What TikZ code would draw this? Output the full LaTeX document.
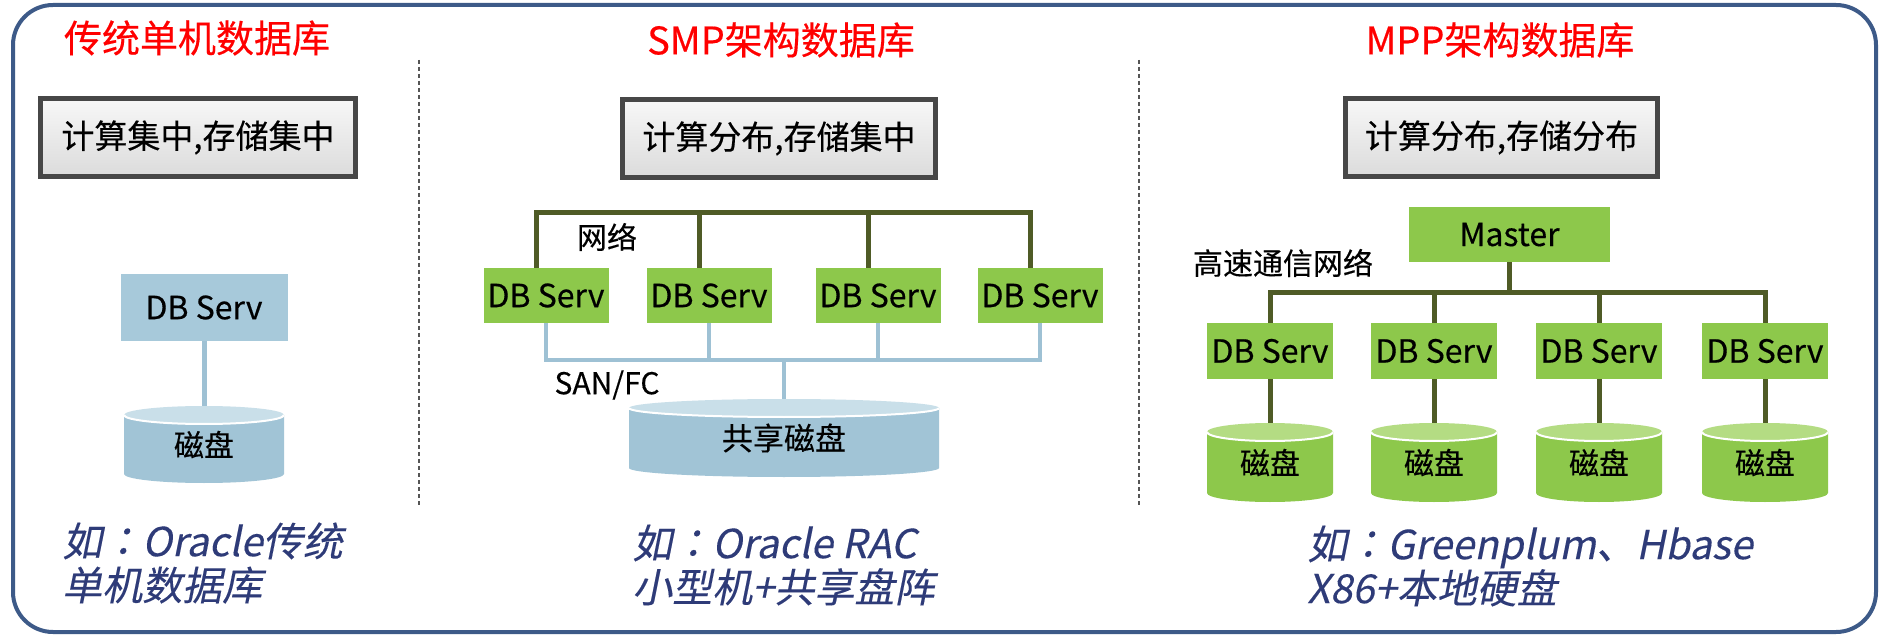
\documentclass[tikz,border=0pt]{standalone}
\usepackage{fontspec}
\setmainfont[FakeBold=0.35]{Noto Sans CJK SC}
\newfontfamily\slantfont[FakeSlant=0.2,FakeBold=0.2]{Noto Sans CJK SC}
\newfontfamily\slantcolon[FakeSlant=0.2,FakeBold=0.2]{Noto Sans CJK TC}
\usetikzlibrary{calc}

\definecolor{frameblue}{HTML}{3D5A88}
\definecolor{titlered}{HTML}{FF0000}
\definecolor{srvgreen}{HTML}{8DC84B}
\definecolor{diskgreentop}{HTML}{B4DC83}
\definecolor{srvblue}{HTML}{A7C9DA}
\definecolor{diskblue}{HTML}{A1C4D6}
\definecolor{diskbluetop}{HTML}{C9DFE9}
\definecolor{netolive}{HTML}{4F5B26}
\definecolor{sanblue}{HTML}{9EC1D4}
\definecolor{notenavy}{HTML}{2E3B78}
\definecolor{boxedge}{HTML}{474747}
\definecolor{sepgray}{HTML}{555555}

% centred full-width colon used in the example lines
\newcommand\ncolon{{\slantcolon ：}}

% cylinder drawn inside the node's rectangle: body, lighter lid, white rim
\newcommand\cylinderfill[2]{%
  \fill[#1] let \p1=(path picture bounding box.south west),
                \p2=(path picture bounding box.north east),
                \n1={(\x2-\x1)/2} in
    (\x1,\y2-9pt) -- (\x1,\y1+9pt)
    arc[start angle=180,end angle=360,x radius=\n1,y radius=9pt]
    -- (\x2,\y2-9pt) -- cycle;
  \fill[#2] let \p1=(path picture bounding box.south west),
                \p2=(path picture bounding box.north east),
                \n1={(\x2-\x1)/2} in
    ({(\x1+\x2)/2},\y2-9pt) ellipse[x radius=\n1,y radius=9pt];
  \draw[white,line width=2pt] let \p1=(path picture bounding box.south west),
                \p2=(path picture bounding box.north east),
                \n1={(\x2-\x1)/2} in
    (\x1,\y2-9pt) arc[start angle=180,end angle=360,x radius=\n1,y radius=9pt];
}

\tikzset{
  title/.style={text=titlered,font=\fontsize{38}{44}\selectfont,inner sep=0pt},
  summary/.style={draw=boxedge,line width=5pt,top color=gray!6,bottom color=gray!28,
    inner sep=0pt,font=\fontsize{33}{38}\selectfont},
  server/.style={fill=srvgreen,inner sep=0pt,font=\fontsize{32}{36}\selectfont},
  diskbox/.style n args={2}{inner sep=0pt,font=\fontsize{30}{34}\selectfont,
    path picture={\cylinderfill{#1}{#2}}},
  net/.style={draw=netolive,line width=5pt},
  san/.style={draw=sanblue,line width=4.5pt},
  lbl/.style={inner sep=0pt,font=\fontsize{30}{34}\selectfont},
  note/.style={anchor=west,align=left,inner sep=0pt,text=notenavy,
    font=\slantfont\fontsize{40}{44}\selectfont},
  sep/.style={draw=sepgray,line width=1.5pt,dash pattern=on 4pt off 3pt},
}

\begin{document}
\begin{tikzpicture}[x=1pt,y=-1pt]
\useasboundingbox (0,0) rectangle (1883,636);
\fill[white] (0,0) rectangle (1883,636);

% outer frame
\draw[frameblue,line width=4pt,rounded corners=40pt] (13,5) rectangle (1876,632);

% column separators
\draw[sep] (419,60) -- (419,505);
\draw[sep] (1139,60) -- (1139,505);

% headings
\node[title] (t1) at (197,38) {传统单机数据库};
\node[title] (t2) at (781,40) {SMP架构数据库};
\node[title] (t3) at (1500,40) {MPP架构数据库};

% summary boxes
\node[summary,minimum width=315pt,minimum height=78pt] (b1) at (198,137.5) {计算集中,存储集中};
\node[summary,minimum width=313pt,minimum height=78pt] (b2) at (779,138.5) {计算分布,存储集中};
\node[summary,minimum width=312pt,minimum height=78pt] (b3) at (1501.5,137.5) {计算分布,存储分布};

% ---- single-machine database
\node[server,fill=srvblue,minimum width=167pt,minimum height=67pt] (ls) at (204,307.5) {DB Serv};
\node[diskbox={diskblue}{diskbluetop},minimum width=160pt,minimum height=77pt] (ld) at (204,444.5) {\raisebox{-4pt}{磁盘}};
\draw[san,line width=5pt] (ls.south) -- (ld.north);

% ---- SMP
\coordinate (netbus) at (0,213);
\coordinate (sanbus) at (0,360);
\node[server,minimum width=125pt,minimum height=55pt] (s1) at (546,295.5) {DB Serv};
\node[server,minimum width=125pt,minimum height=55pt] (s2) at (709,295.5) {DB Serv};
\node[server,minimum width=125pt,minimum height=55pt] (s3) at (878,295.5) {DB Serv};
\node[server,minimum width=125pt,minimum height=55pt] (s4) at (1040,295.5) {DB Serv};
\node[diskbox={diskblue}{diskbluetop},minimum width=310pt,minimum height=78pt] (sd) at (784,438) {\raisebox{-4pt}{\fontsize{31}{34}\selectfont 共享磁盘}};

\draw[net] ([xshift=-10pt]s1.north) |- ([xshift=-10pt]s4.north |- netbus) -- ([xshift=-10pt]s4.north);
\draw[net] ([xshift=-10pt]s2.north) -- ([xshift=-10pt]s2.north |- netbus);
\draw[net] ([xshift=-10pt]s3.north) -- ([xshift=-10pt]s3.north |- netbus);

\draw[san] (s1.south) |- (s4.south |- sanbus) -- (s4.south);
\draw[san] (s2.south) -- (s2.south |- sanbus);
\draw[san] (s3.south) -- (s3.south |- sanbus);
\draw[san] (sd.north |- sanbus) -- (sd.north);

\node[lbl] (netlbl) at (607,237) {网络};
\node[lbl] (sanlbl) at (607,385) {SAN/FC};

% ---- MPP
\coordinate (mppbus) at (0,293);
\node[server,minimum width=201pt,minimum height=55pt] (m) at (1509.5,234.5) {Master};
\node[server,minimum width=126pt,minimum height=56pt] (p1) at (1270,351) {DB Serv};
\node[server,minimum width=126pt,minimum height=56pt] (p2) at (1434,351) {DB Serv};
\node[server,minimum width=126pt,minimum height=56pt] (p3) at (1599,351) {DB Serv};
\node[server,minimum width=126pt,minimum height=56pt] (p4) at (1765,351) {DB Serv};
\foreach \i in {1,...,4}{
  \path (p\i) ++(0,111.5) node[diskbox={srvgreen}{diskgreentop},minimum width=126pt,minimum height=79pt] (q\i) {\raisebox{-4pt}{磁盘}};
  \draw[net] (p\i.south) -- (q\i.north);
}
\draw[net] (p1.north) |- (p4.north |- mppbus) -- (p4.north);
\draw[net] (p2.north) -- (p2.north |- mppbus);
\draw[net] (p3.north) -- (p3.north |- mppbus);
\draw[net] (m.south) -- (m.south |- mppbus);

\node[lbl] (mpplbl) at (1283,263) {高速通信网络};

% examples
\node[note] (n1) at (62,563) {如\ncolon Oracle传统\\单机数据库};
\node[note] (n2) at (632,565) {如\ncolon Oracle RAC\\小型机+共享盘阵};
\node[note] (n3) at (1307,566) {如\ncolon Greenplum、Hbase\\X86+本地硬盘};
\end{tikzpicture}
\end{document}
